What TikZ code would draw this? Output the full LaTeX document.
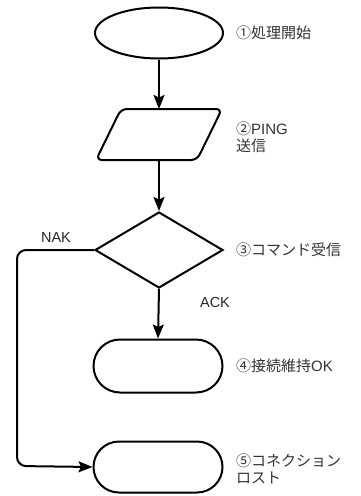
\documentclass[tikz,border=0pt]{standalone}
\usepackage{fontspec}
\setmainfont{Liberation Sans}
\newfontfamily\jpfont{Noto Sans CJK JP}
\usetikzlibrary{arrows.meta,shapes.geometric,shapes.misc}
\begin{document}
\begin{tikzpicture}[x=1pt,y=-1pt,
  shapeline/.style={line width=2pt, draw=black, fill=white},
  flow/.style={line width=2pt, draw=black, -{Stealth[length=14pt,width=11pt,inset=2.5pt]}},
  lbl/.style={anchor=west, font=\fontsize{15}{18}\selectfont, text=black!80, align=left, inner sep=0pt},
  edgelbl/.style={font=\fontsize{14.5}{17}\selectfont, text=black!85, inner sep=0pt}]
\useasboundingbox (0,0) rectangle (360,496);

% start terminal
\node[shapeline, ellipse, minimum width=128pt, minimum height=51pt, inner sep=0pt] (start) at (159,33) {};
% send step (parallelogram)
\draw[shapeline, rounded corners=6pt] (121,109) -- (222,109) -- (197,160) -- (96,160) -- cycle;
\coordinate (sendTop) at (159,109);
\coordinate (sendBot) at (159,160);
% decision
\node[shapeline, diamond, minimum width=128pt, minimum height=76pt, inner sep=0pt, aspect=1.68] (dec) at (159,250) {};
% ok terminal
\node[shapeline, rounded rectangle, minimum width=129pt, minimum height=53pt, inner sep=0pt] (ok) at (158,366) {};
% lost terminal
\node[shapeline, rounded rectangle, minimum width=129pt, minimum height=51pt, inner sep=0pt] (lost) at (158,467) {};

\coordinate (nakCorner1) at (17,250);
\coordinate (nakCorner2) at (17,466);

% connectors
\draw[flow] (start.south) -- (sendTop);
\draw[flow] (sendBot) -- (dec.north);
\draw[flow] (dec.south) -- (ok.north);
\draw[flow, rounded corners=9pt] (dec.west) -- (nakCorner1) -- (nakCorner2) -- (lost.west);

% labels
\node[lbl] (l1) at (236,33) {\jpfont ①処理開始};
\node[lbl] (l2) at (236,137) {\jpfont ②\normalfont PING\\[-1pt]\jpfont 送信};
\node[lbl] (l3) at (236,250) {\jpfont ③コマンド受信};
\node[lbl] (l4) at (236,366) {\jpfont ④接続維持\normalfont OK};
\node[lbl] (l5) at (236,469) {\jpfont ⑤コネクション\\[-1pt]\jpfont ロスト};
\node[edgelbl] (nak) at (56,238) {NAK};
\node[edgelbl] (ack) at (215,303) {ACK};
\end{tikzpicture}
\end{document}
